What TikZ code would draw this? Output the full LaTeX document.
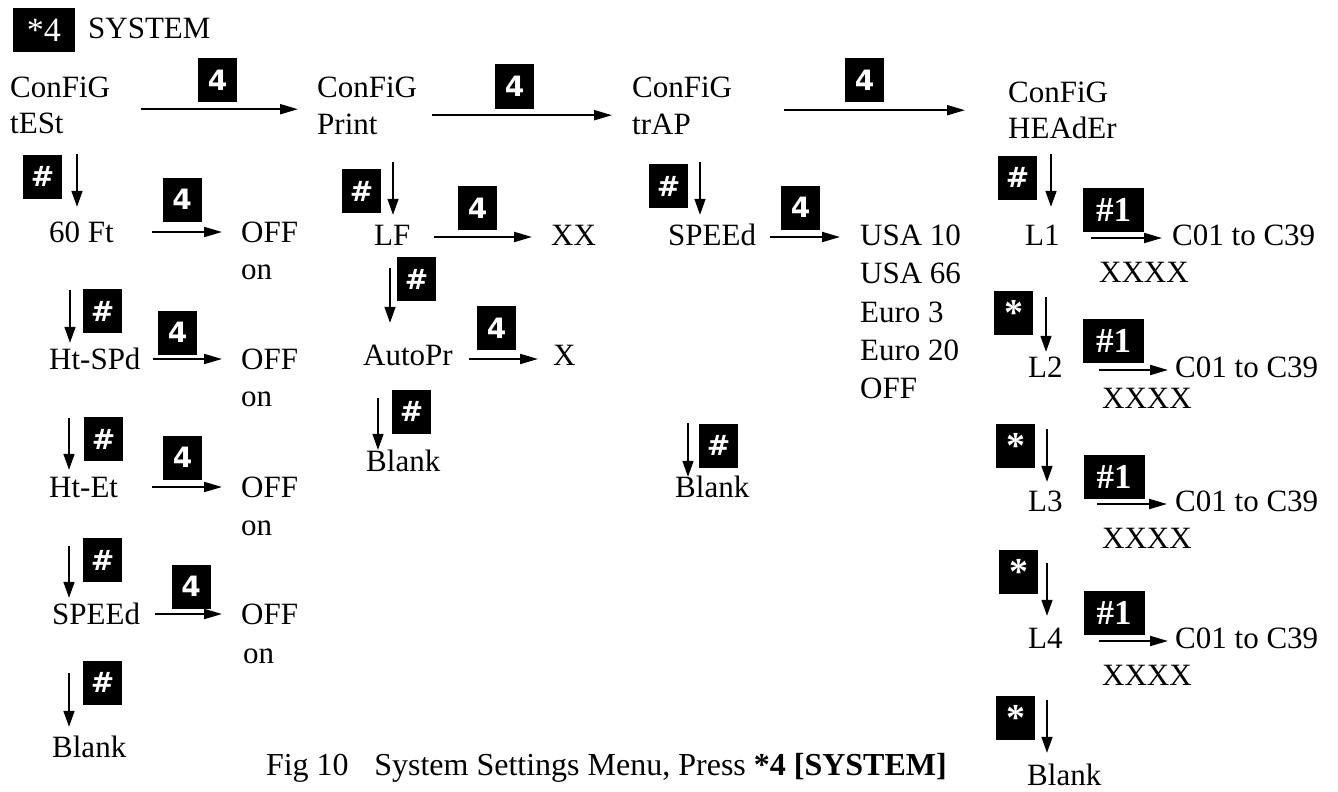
\documentclass[tikz,border=0pt]{standalone}
\usepackage{fontspec}
\setmainfont{Liberation Serif}
\setsansfont{DejaVu Sans}
\usetikzlibrary{arrows.meta}

\begin{document}
\begin{tikzpicture}[x=1pt, y=-1pt, font=\fontsize{31}{36}\selectfont,
  txt/.style={anchor=base west, inner sep=0pt, text height=20pt, text depth=0pt},
  keybox/.style={fill=black, text=white, inner sep=0pt, minimum width=39pt,
                 minimum height=44pt, font=\sffamily\bfseries\fontsize{28}{32}\selectfont},
  starbox/.style={keybox, font=\rmfamily\bfseries\fontsize{38}{40}\selectfont},
  widebox/.style={keybox, minimum width=61pt, font=\rmfamily\bfseries\fontsize{35}{38}\selectfont},
  arr/.style={-{Triangle[length=18pt, width=10pt]}, line width=2pt},
  darr/.style={-{Triangle[length=16pt, width=11pt]}, line width=1.6pt}]
  \useasboundingbox (0,0) rectangle (1338,792);

  % title
  \node[widebox, minimum width=62pt, font=\rmfamily\fontsize{34}{38}\selectfont] (sys) at (44,30) {*4};
  \node[txt] (systxt) at (88,38) {SYSTEM};

  % top row
  \node[txt] (cfgA) at (10,97)   {ConFiG};
  \node[txt] (tst)  at (10,133)  {tESt};
  \node[txt] (cfgB) at (317,97)  {ConFiG};
  \node[txt] (prn)  at (317,134) {Print};
  \node[txt] (cfgC) at (632,97)  {ConFiG};
  \node[txt] (trp)  at (632,134) {trAP};
  \node[txt] (cfgD) at (1008,102) {ConFiG};
  \node[txt] (hdr)  at (1008,138) {HEAdEr};
  \node[keybox] (kAB) at (217.5,80) {4};
  \node[keybox] (kBC) at (514.5,86.5) {4};
  \node[keybox] (kCD) at (864.5,80) {4};
  \draw[arr] ([xshift=31pt, yshift=-12pt]cfgA.south east) -- ([xshift=-19pt, yshift=-12pt]cfgB.south west);
  \draw[arr] ([xshift=15pt, yshift=-18pt]cfgB.south east) -- ([xshift=-20pt, yshift=-18pt]cfgC.south west);
  \draw[arr] ([xshift=52pt, yshift=-13pt]cfgC.south east) -- ([xshift=-43pt, yshift=-8pt]cfgD.south west);

  % tESt column
  \node[txt] (ft)   at (49,242)  {60 Ft};
  \node[txt] (offa) at (241,242) {OFF};
  \node[txt] (ona)  at (241,279) {on};
  \node[txt] (spd)  at (49,369)  {Ht-SPd};
  \node[txt] (offb) at (241,369) {OFF};
  \node[txt] (onb)  at (241,406) {on};
  \node[txt] (het)  at (49,497)  {Ht-Et};
  \node[txt] (offc) at (241,497) {OFF};
  \node[txt] (onc)  at (241,535) {on};
  \node[txt] (spa)  at (52,624)  {SPEEd};
  \node[txt] (offd) at (241,624) {OFF};
  \node[txt] (ond)  at (243,663) {on};
  \node[txt] (blka) at (52,757)  {Blank};

  \node[keybox] (ha1) at (42.5,176.5) {\#};
  \node[keybox] (ha2) at (102.5,311) {\#};
  \node[keybox] (ha3) at (103.5,439) {\#};
  \node[keybox] (ha4) at (102.5,560) {\#};
  \node[keybox] (ha5) at (102.5,682.5) {\#};
  \node[keybox] (fa1) at (182,199.5) {4};
  \node[keybox] (fa2) at (177.5,332.5) {4};
  \node[keybox] (fa3) at (182.5,457.5) {4};
  \node[keybox] (fa4) at (191,586.5) {4};

  \draw[darr] ([xshift=67pt, yshift=-21pt]tst.south west) -- ([xshift=28pt, yshift=15pt]ft.north west);
  \draw[darr] ([xshift=21pt, yshift=-48pt]ft.south west) -- ([xshift=21pt, yshift=6pt]spd.north west);
  \draw[darr] ([xshift=20pt, yshift=-49pt]spd.south west) -- ([xshift=20pt, yshift=7pt]het.north west);
  \draw[darr] ([xshift=20pt, yshift=-49pt]het.south west) -- ([xshift=17pt, yshift=6pt]spa.north west);
  \draw[darr] ([xshift=17pt, yshift=-49pt]spa.south west) -- ([xshift=17pt, yshift=10pt]blka.north west);
  \draw[arr] ([xshift=38pt]ft.east) -- ([xshift=-19pt]offa.west);
  \draw[arr] ([xshift=12pt]spd.east) -- ([xshift=-19pt]offb.west);
  \draw[arr] ([xshift=34pt]het.east) -- ([xshift=-19pt]offc.west);
  \draw[arr] ([xshift=15pt]spa.east) -- ([xshift=-19pt]offd.west);

  % Print column
  \node[txt] (lf)   at (374,245) {LF};
  \node[txt] (xx)   at (551,245) {XX};
  \node[txt] (apr)  at (363,365) {AutoPr};
  \node[txt] (xa)   at (553,365) {X};
  \node[txt] (blkb) at (366,471) {Blank};

  \node[keybox] (hb1) at (361.5,191) {\#};
  \node[keybox] (hb2) at (416.5,279) {\#};
  \node[keybox] (hb3) at (411.5,411.5) {\#};
  \node[keybox] (fb1) at (477.5,208) {4};
  \node[keybox] (fb2) at (496.5,328) {4};

  \draw[darr] ([xshift=76pt, yshift=-28pt]prn.south west) -- ([xshift=19pt, yshift=10pt]lf.north west);
  \draw[darr] ([xshift=16pt, yshift=-23pt]lf.south west) -- ([xshift=27pt, yshift=22pt]apr.north west);
  \draw[darr] ([xshift=15pt, yshift=-33pt]apr.south west) -- ([xshift=12pt, yshift=1pt]blkb.north west);
  \draw[arr] ([xshift=23pt, yshift=-2pt]lf.east) -- ([xshift=-19pt, yshift=-2pt]xx.west);
  \draw[arr] ([xshift=16pt, yshift=-4pt]apr.east) -- ([xshift=-15pt, yshift=-4pt]xa.west);

  % trAP column
  \node[txt] (spb)  at (668,245) {SPEEd};
  \node[txt] (usa1) at (860,245) {USA 10};
  \node[txt] (usa2) at (860,283) {USA 66};
  \node[txt] (eu1)  at (860,322) {Euro 3};
  \node[txt] (eu2)  at (860,360) {Euro 20};
  \node[txt] (offe) at (860,398) {OFF};
  \node[txt] (blkc) at (675,497) {Blank};

  \node[keybox] (hc1) at (668.5,186) {\#};
  \node[keybox] (hc2) at (718.5,445.5) {\#};
  \node[keybox] (fc1) at (800.5,207.5) {4};

  \draw[darr] ([xshift=68pt, yshift=-28pt]trp.south west) -- ([xshift=32pt, yshift=10pt]spb.north west);
  \draw[darr] ([xshift=20pt, yshift=-178pt]spb.south west) -- ([xshift=13pt]blkc.north west);
  \draw[arr] ([xshift=14pt, yshift=-2pt]spb.east) -- ([xshift=-20pt, yshift=-2pt]usa1.west);

  % HEAdEr column
  \node[txt] (la)   at (1025,245) {L1};
  \node[txt] (ca)   at (1172,245) {C01 to C39};
  \node[txt] (xxa)  at (1099,282) {XXXX};
  \node[txt] (lb)   at (1028,377) {L2};
  \node[txt] (cb)   at (1175,377) {C01 to C39};
  \node[txt] (xxb)  at (1102,408) {XXXX};
  \node[txt] (lc)   at (1028,511) {L3};
  \node[txt] (cc)   at (1175,511) {C01 to C39};
  \node[txt] (xxc)  at (1102,548) {XXXX};
  \node[txt] (ld)   at (1028,648) {L4};
  \node[txt] (cd)   at (1175,648) {C01 to C39};
  \node[txt] (xxd)  at (1102,685) {XXXX};
  \node[txt] (blkd) at (1027,785) {Blank};

  \node[keybox] (hd1) at (1017.5,177.5) {\#};
  \node[starbox] (sd1) at (1013.5,313) {*};
  \node[starbox] (sd2) at (1015.5,446) {*};
  \node[starbox] (sd3) at (1018.5,571.5) {*};
  \node[starbox] (sd4) at (1015.5,717.5) {*};
  \node[widebox] (wd1) at (1113.5,210) {\#1};
  \node[widebox] (wd2) at (1113.5,341) {\#1};
  \node[widebox] (wd3) at (1114,477) {\#1};
  \node[widebox] (wd4) at (1114,612.5) {\#1};

  \draw[darr] ([xshift=43pt, yshift=-16pt]hdr.south west) -- ([xshift=26pt, yshift=18pt]la.north west);
  \draw[darr] ([xshift=21pt, yshift=-52pt]la.south west) -- ([xshift=18pt, yshift=5pt]lb.north west);
  \draw[darr] ([xshift=19pt, yshift=-52pt]lb.south west) -- ([xshift=19pt, yshift=9pt]lc.north west);
  \draw[darr] ([xshift=19pt, yshift=-52pt]lc.south west) -- ([xshift=19pt, yshift=12pt]ld.north west);
  \draw[darr] ([xshift=19pt, yshift=-52pt]ld.south west) -- ([xshift=20pt, yshift=12pt]blkd.north west);
  \draw[arr] ([xshift=31pt, yshift=-3pt]la.east) -- ([xshift=-10pt, yshift=-3pt]ca.west);
  \draw[arr] ([xshift=36pt, yshift=-3pt]lb.east) -- ([xshift=-7pt, yshift=-3pt]cb.west);
  \draw[arr] ([xshift=34pt, yshift=-3pt]lc.east) -- ([xshift=-8pt, yshift=-3pt]cc.west);
  \draw[arr] ([xshift=36pt, yshift=-3pt]ld.east) -- ([xshift=-7pt, yshift=-3pt]cd.west);

  % caption
  \node[txt, anchor=base east, font=\fontsize{32}{36}\selectfont] (cap) at (947,775)
    {Fig 10\hspace{0.8em}System Settings Menu, Press \textbf{*4 [SYSTEM]}};
\end{tikzpicture}
\end{document}
